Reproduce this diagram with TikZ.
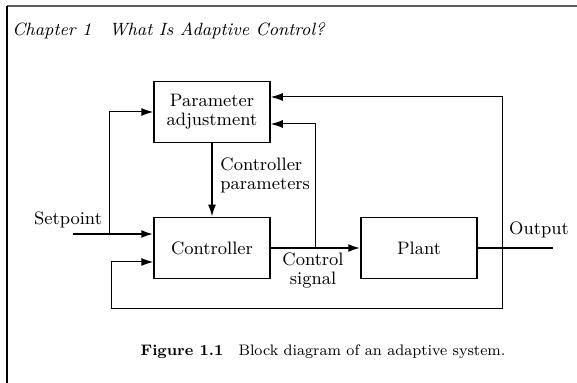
\documentclass[tikz,border=0pt]{standalone}
\usepackage{tikz}
\usetikzlibrary{arrows.meta}
\usetikzlibrary{calc}
\definecolor{framecolor}{HTML}{5A5A5A}

\begin{document}
\begin{tikzpicture}[x=0.5pt,y=-0.5pt,
  block/.style={draw,line width=0.75pt,minimum width=58pt,minimum height=30.5pt,inner sep=0pt,align=center,font=\fontsize{9}{9.5}\selectfont},
  lbl/.style={inner sep=0pt,align=center,font=\fontsize{9}{9.5}\selectfont},
  tip/.style={-{Latex[length=6pt,width=4pt]}},
  sig/.style={line width=1pt},
  fb/.style={line width=0.5pt}]

  \useasboundingbox (0,0) rectangle (577,383);
  \draw[framecolor,line width=1pt] (7,6) -- (577,6);
  \draw[black,line width=0.8pt] (7,6) -- (7,383);

  \node[lbl,anchor=west,font=\fontsize{8.9}{9}\selectfont\itshape] (chap) at (12,31) {Chapter 1\quad What Is Adaptive Control?};

  \node[block] (adj) at (212,112) {Parameter\\adjustment};
  \node[block] (ctrl) at (212,248) {Controller};
  \node[block] (plant) at (419,248) {Plant};

  \coordinate (sp) at (73,234);
  \coordinate (spbr) at (109,234);
  \coordinate (ubr) at (315,248);
  \coordinate (obr) at (502,248);
  \coordinate (out) at (553,248);
  \coordinate (fbl) at (111,309);

  \draw[sig,tip] (sp) -- (sp -| ctrl.west);
  \draw[fb,tip] (spbr) |- (adj.west);
  \draw[sig,tip] (adj.south) -- (ctrl.north);
  \draw[sig,tip] (ctrl.east) -- (plant.west);
  \draw[fb,tip] (ubr) |- ($(adj.east)+(0,12)$);
  \draw[sig] (plant.east) -- (out);
  \draw[fb,tip] (obr) |- ($(adj.east)+(0,-15)$);
  \draw[fb,tip] (obr) |- (fbl) |- ($(ctrl.west)+(0,14)$);

  \node[lbl] (setpt) at (68,220) {Setpoint};
  \node[lbl,anchor=west,align=left] (cpar) at (220,175.5) {Controller\\parameters};
  \node[lbl] (csig) at (313,271) {Control\\signal};
  \node[lbl] (outl) at (539,230) {Output};

  \node[lbl,font=\fontsize{7.6}{9}\selectfont] (cap) at (323,352) {\textbf{Figure 1.1}\quad Block diagram of an adaptive system.};
\end{tikzpicture}
\end{document}
